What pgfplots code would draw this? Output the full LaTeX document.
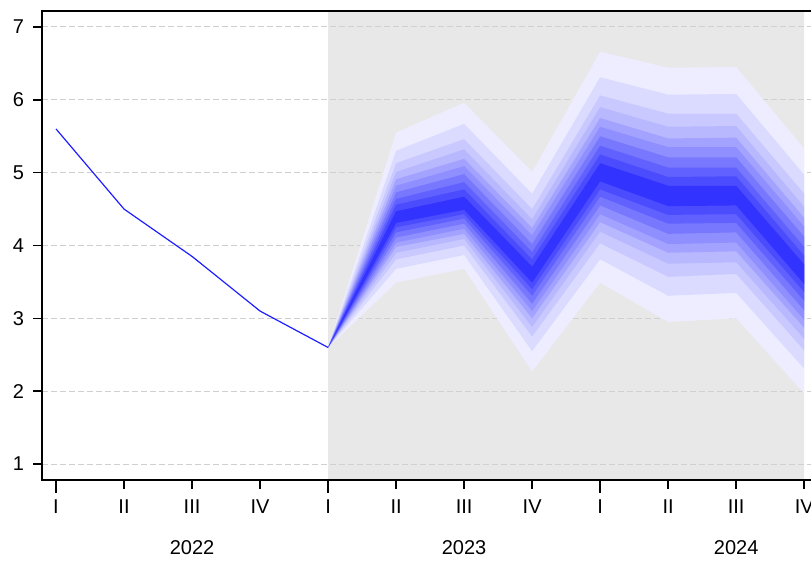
\documentclass[border=0pt]{standalone}
\usepackage{fontspec}
\setmainfont{Liberation Sans}
\usepackage{pgfplots}
\pgfplotsset{compat=1.18}
\definecolor{bgGray}{RGB}{232,232,232}
\definecolor{gridGray}{RGB}{208,208,208}
\definecolor{lineBlue}{RGB}{30,30,255}
\colorlet{b1}{blue!7!white}
\colorlet{b2}{blue!14!white}
\colorlet{b3}{blue!21!white}
\colorlet{b4}{blue!28!white}
\colorlet{b5}{blue!36!white}
\colorlet{b6}{blue!44!white}
\colorlet{b7}{blue!53!white}
\colorlet{b8}{blue!62!white}
\colorlet{b9}{blue!70!white}
\colorlet{b10}{blue!80!white}
\begin{document}
\begin{tikzpicture}
\begin{axis}[
  set layers,
  scale only axis, width=384.5pt, height=234.5pt,
  xmin=-0.206, xmax=11.1, ymin=0.781, ymax=7.219,
  axis line style={draw=none},
  ytick={1,2,3,4,5,6,7},
  xtick={0,...,11},
  xticklabels={I,II,III,IV,I,II,III,IV,I,II,III,IV},
  extra x ticks={0,4,8},
  extra x tick labels={},
  extra x tick style={major tick length=6.5pt},
  xtick pos=bottom, ytick pos=left,
  tick align=outside,
  major tick length=4.5pt,
  tick style={black, line width=0.75pt},
  ymajorgrids,
  grid style={gridGray, dash pattern=on 3pt off 1.5pt, line width=0.5pt},
  ticklabel style={font=\fontsize{10}{12}\selectfont, text=black},
  /pgf/number format/assume math mode=true,
  yticklabel style={xshift=-1pt},
  xticklabel style={yshift=-2pt},
  clip=false,
]
% forecast background
\addplot[fill=bgGray, draw=none, on layer=axis background, forget plot]
  coordinates {(4,0.781) (11,0.781) (11,7.219) (4,7.219) (4,0.781)};
% fan bands (outer to inner)
\addplot[fill=b1, draw=none, forget plot] coordinates {
 (4,2.6) (5,5.55) (6,5.96) (7,5.01) (8,6.66) (9,6.44) (10,6.45) (11,5.33)
 (11,1.97) (10,3.00) (9,2.95) (8,3.49) (7,2.27) (6,3.68) (5,3.49) (4,2.6)};
\addplot[fill=b2, draw=none, forget plot] coordinates {
 (4,2.6) (5,5.30) (6,5.67) (7,4.71) (8,6.31) (9,6.07) (10,6.08) (11,4.97)
 (11,2.31) (10,3.35) (9,3.31) (8,3.81) (7,2.55) (6,3.87) (5,3.68) (4,2.6)};
\addplot[fill=b3, draw=none, forget plot] coordinates {
 (4,2.6) (5,5.13) (6,5.46) (7,4.50) (8,6.06) (9,5.81) (10,5.81) (11,4.71)
 (11,2.56) (10,3.61) (9,3.57) (8,4.03) (7,2.75) (6,4.00) (5,3.81) (4,2.6)};
\addplot[fill=b4, draw=none, forget plot] coordinates {
 (4,2.6) (5,5.01) (6,5.32) (7,4.36) (8,5.90) (9,5.63) (10,5.64) (11,4.53)
 (11,2.72) (10,3.77) (9,3.75) (8,4.19) (7,2.88) (6,4.09) (5,3.90) (4,2.6)};
\addplot[fill=b5, draw=none, forget plot] coordinates {
 (4,2.6) (5,4.91) (6,5.19) (7,4.24) (8,5.75) (9,5.47) (10,5.48) (11,4.38)
 (11,2.87) (10,3.92) (9,3.90) (8,4.32) (7,3.00) (6,4.16) (5,3.98) (4,2.6)};
\addplot[fill=b6, draw=none, forget plot] coordinates {
 (4,2.6) (5,4.82) (6,5.09) (7,4.14) (8,5.63) (9,5.35) (10,5.35) (11,4.26)
 (11,2.98) (10,4.04) (9,4.02) (8,4.43) (7,3.10) (6,4.23) (5,4.04) (4,2.6)};
\addplot[fill=b7, draw=none, forget plot] coordinates {
 (4,2.6) (5,4.73) (6,4.98) (7,4.02) (8,5.50) (9,5.21) (10,5.21) (11,4.12)
 (11,3.11) (10,4.18) (9,4.16) (8,4.55) (7,3.20) (6,4.30) (5,4.11) (4,2.6)};
\addplot[fill=b8, draw=none, forget plot] coordinates {
 (4,2.6) (5,4.64) (6,4.87) (7,3.91) (8,5.37) (9,5.07) (10,5.07) (11,3.98)
 (11,3.24) (10,4.31) (9,4.30) (8,4.67) (7,3.31) (6,4.37) (5,4.18) (4,2.6)};
\addplot[fill=b9, draw=none, forget plot] coordinates {
 (4,2.6) (5,4.56) (6,4.77) (7,3.81) (8,5.25) (9,4.94) (10,4.95) (11,3.86)
 (11,3.36) (10,4.43) (9,4.42) (8,4.77) (7,3.40) (6,4.43) (5,4.25) (4,2.6)};
\addplot[fill=b10, draw=none, forget plot] coordinates {
 (4,2.6) (5,4.47) (6,4.67) (7,3.71) (8,5.13) (9,4.82) (10,4.82) (11,3.74)
 (11,3.47) (10,4.55) (9,4.54) (8,4.88) (7,3.49) (6,4.49) (5,4.31) (4,2.6)};
% history
\addplot[lineBlue, line width=0.6pt, forget plot] coordinates {
 (0,5.6) (1,4.5) (2,3.85) (3,3.1) (4,2.6)};
% frame (left, bottom, top)
\draw[black, line width=0.75pt] (rel axis cs:1,1) -- (rel axis cs:0,1) -- (rel axis cs:0,0) -- (rel axis cs:1,0);
% year labels
\node[font=\fontsize{10}{12}\selectfont, anchor=center] at ([yshift=-34pt]axis cs:2,0.781) {2022};
\node[font=\fontsize{10}{12}\selectfont, anchor=center] at ([yshift=-34pt]axis cs:6,0.781) {2023};
\node[font=\fontsize{10}{12}\selectfont, anchor=center] at ([yshift=-34pt]axis cs:10,0.781) {2024};
\coordinate (SW) at (rel axis cs:0,0);
\coordinate (NE) at (rel axis cs:1,1);
\end{axis}
\pgfresetboundingbox
\path[use as bounding box] ([shift={(-21pt,-40.5pt)}]SW) rectangle ([shift={(0pt,5.5pt)}]NE);
\end{tikzpicture}
\end{document}
